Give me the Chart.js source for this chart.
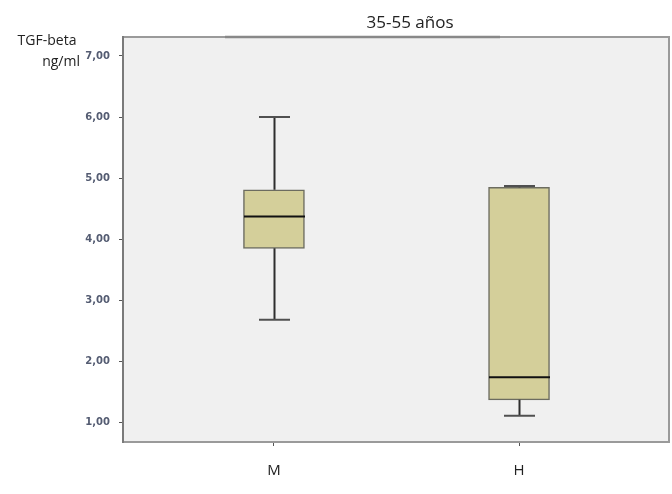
<!DOCTYPE html>
<html>
<head>
<meta charset="utf-8">
<script src="https://cdn.jsdelivr.net/npm/chart.js@4"></script>
<style>
  body { margin: 0; background: #fff; }
  #wrap { width: 672px; height: 494px; }
</style>
</head>
<body>
<div id="wrap"><canvas id="myChart"></canvas></div>
<script>
const groups = ["M", "H"];
const minVals = [2.68, 1.11];
const q1Vals = [3.85, 1.37];
const medVals = [4.37, 1.74];
const q3Vals = [4.81, 4.85];
const maxVals = [6.0, 4.87];
const yTicks = [1, 2, 3, 4, 5, 6, 7];
const chartTitle = "35-55 años";
const yTitle = ["TGF-beta", "ng/ml"];

const fmt = (v) => v.toFixed(2).replace(".", ",");

// background + frame of the plot area
const framePlugin = {
  id: "frame",
  beforeDraw(chart) {
    const { ctx, chartArea: a } = chart;
    ctx.save();
    ctx.fillStyle = "#f0f0f0";
    ctx.fillRect(a.left, a.top, a.right - a.left, a.bottom - a.top);
    ctx.restore();
  },
  afterDraw(chart) {
    const { ctx, chartArea: a } = chart;
    ctx.save();
    ctx.strokeStyle = "#9a9a9a";
    ctx.lineWidth = 2;
    ctx.strokeRect(a.left, a.top, a.right - a.left, a.bottom - a.top);
    ctx.strokeStyle = "#7a7a7a";
    ctx.beginPath();
    ctx.moveTo(a.left, a.top - 1);
    ctx.lineTo(a.left, a.bottom + 1);
    ctx.stroke();
    // title strip
    ctx.strokeStyle = "#888";
    ctx.lineWidth = 2.5;
    ctx.beginPath();
    ctx.moveTo(225, a.top);
    ctx.lineTo(500, a.top);
    ctx.stroke();

    ctx.fillStyle = "#222";
    ctx.textBaseline = "middle";
    ctx.font = "17px 'Open Sans'";
    ctx.textAlign = "center";
    ctx.fillText(chartTitle, 410, 23);
    ctx.font = "14px 'Open Sans'";
    ctx.fillText(yTitle[0], 47, 41);
    ctx.textAlign = "right";
    ctx.fillText(yTitle[1], 80, 62);
    ctx.restore();
  },
};

// whiskers, caps and medians
const boxPlugin = {
  id: "boxes",
  afterDatasetsDraw(chart) {
    const { ctx } = chart;
    const xs = chart.scales.x;
    const ys = chart.scales.y;
    ctx.save();
    groups.forEach((g, i) => {
      const cx = Math.round(xs.getPixelForValue(i)) + 0.5;
      const yMin = ys.getPixelForValue(minVals[i]);
      const yQ1 = ys.getPixelForValue(q1Vals[i]);
      const yMed = ys.getPixelForValue(medVals[i]);
      const yQ3 = ys.getPixelForValue(q3Vals[i]);
      const yMax = ys.getPixelForValue(maxVals[i]);

      ctx.strokeStyle = "#2e2e2e";
      ctx.lineWidth = 2;
      ctx.beginPath();
      ctx.moveTo(cx, yQ3);
      ctx.lineTo(cx, yMax);
      ctx.moveTo(cx, yQ1);
      ctx.lineTo(cx, yMin);
      ctx.stroke();

      ctx.strokeStyle = "#505050";
      ctx.beginPath();
      ctx.moveTo(cx - 15.5, yMax);
      ctx.lineTo(cx + 15.5, yMax);
      ctx.moveTo(cx - 15.5, yMin);
      ctx.lineTo(cx + 15.5, yMin);
      ctx.stroke();

      ctx.strokeStyle = "#111";
      ctx.beginPath();
      ctx.moveTo(cx - 30.5, yMed);
      ctx.lineTo(cx + 30.5, yMed);
      ctx.stroke();
    });
    ctx.restore();
  },
};

const config = {
  type: "bar",
  data: {
    datasets: [
      {
        data: groups.map((g, i) => ({ x: i, y: [q1Vals[i], q3Vals[i]] })),
        backgroundColor: "#d4cf9a",
        borderColor: "#6c6c60",
        borderWidth: 1.5,
        borderSkipped: false,
        barThickness: 61,
      },
    ],
  },
  options: {
    responsive: true,
    maintainAspectRatio: false,
    animation: false,
    layout: { padding: { top: 37, right: 3, left: 0, bottom: 0 } },
    plugins: {
      legend: { display: false },
      tooltip: { enabled: false },
      title: { display: false },
    },
    scales: {
      x: {
        type: "linear",
        offset: false,
        min: -0.616,
        max: 1.612,
        afterBuildTicks: (scale) => {
          scale.ticks = groups.map((g, i) => ({ value: i }));
        },
        afterFit: (scale) => {
          scale.height = 52;
        },
        ticks: {
          callback: (v) => groups[v],
          color: "#222",
          font: { family: "'Open Sans'", size: 15 },
          padding: 16,
          maxRotation: 0,
        },
        grid: {
          offset: false,
          drawOnChartArea: false,
          drawTicks: true,
          tickLength: 4,
          tickColor: "#555",
        },
        border: { display: false },
      },
      y: {
        min: 0.68,
        max: 7.31,
        afterBuildTicks: (scale) => {
          scale.ticks = yTicks.map((v) => ({ value: v }));
        },
        afterFit: (scale) => {
          scale.width = 123;
        },
        ticks: {
          callback: (v) => fmt(v),
          color: "#545c72",
          font: { family: "'DejaVu Sans'", size: 10, weight: "bold" },
          padding: 9,
        },
        grid: {
          drawOnChartArea: false,
          drawTicks: true,
          tickLength: 4,
          tickColor: "#555",
        },
        border: { display: false },
      },
    },
  },
  plugins: [framePlugin, boxPlugin],
};

const myChart = new Chart(document.getElementById("myChart"), config);
</script>
</body>
</html>
